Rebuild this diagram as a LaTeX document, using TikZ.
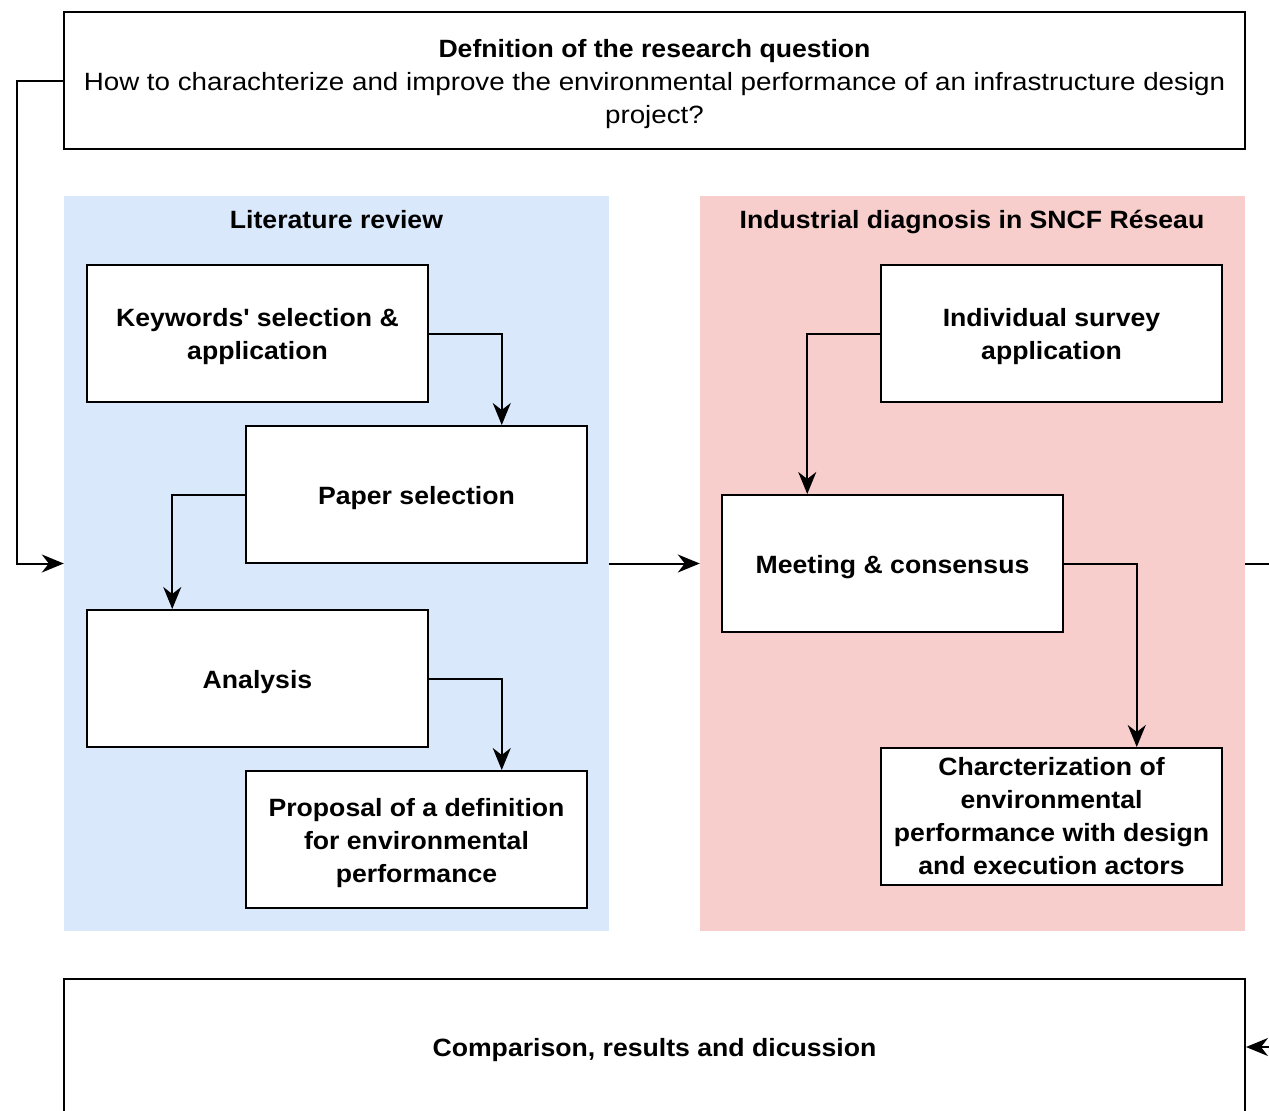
\documentclass[tikz,border=0pt]{standalone}
\usepackage{fontspec}
\setmainfont[FakeStretch=1.11, BoldFeatures={FakeStretch=1.065}]{Liberation Sans}
\usetikzlibrary{arrows.meta}
\definecolor{panelblue}{HTML}{DAE8FC}
\definecolor{panelred}{HTML}{F8CECC}
% taller first line, so the text block sits a little lower in its box
\newcommand\firstline{\rule{0pt}{24.5pt}}
\tikzset{
  box/.style={draw=black, line width=2pt, fill=white, minimum width=341pt,
    minimum height=137pt, inner sep=4pt, align=center,
    font=\fontsize{25}{33}\selectfont\bfseries},
  wide/.style={draw=black, line width=2pt, fill=white, minimum width=1181pt,
    minimum height=137pt, inner sep=4pt, align=center,
    font=\fontsize{25}{33}\selectfont},
  panel/.style={draw=none, minimum width=545pt, minimum height=735pt, inner sep=0pt},
  title/.style={font=\fontsize{25}{33}\selectfont\bfseries, text height=24pt, text depth=5pt},
  link/.style={line width=2pt, -{Stealth[length=22pt,width=18pt,inset=7pt]}},
}
\begin{document}
\begin{tikzpicture}[x=1pt,y=-1pt]
\useasboundingbox[fill=white] (0,0) rectangle (1269,1111);

% research question
\node[wide] (question) at (654.5,80.5)
  {\firstline\textbf{Defnition of the research question}\\
   How to charachterize and improve the environmental performance of an infrastructure design\\
   project?};

% the two study panels
\node[panel, fill=panelblue] (lit) at (336.5,563.5) {};
\node[panel, fill=panelred] (ind) at (972.5,563.5) {};
\node[title] (littitle) at (336.5,219) {Literature review};
\node[title] (indtitle) at (972,219) {Industrial diagnosis in SNCF Réseau};

% literature review steps
\node[box] (kw) at (257.5,333.5) {\firstline Keywords\textquotesingle{} selection \&\\application};
\node[box] (paper) at (416.5,494.5) {\firstline Paper selection};
\node[box] (analysis) at (257.5,678.5) {\firstline Analysis};
\node[box] (proposal) at (416.5,839.5) {\firstline Proposal of a definition\\for environmental\\performance};

% industrial diagnosis steps
\node[box] (survey) at (1051.5,333.5) {\firstline Individual survey\\application};
\node[box] (meeting) at (892.5,563.5) {\firstline Meeting \& consensus};
\node[box] (charac) at (1051.5,816.5) {Charcterization of\\environmental\\performance with design\\and execution actors};

% synthesis
\node[wide] (comparison) at (654.5,1047) {\firstline\textbf{Comparison, results and dicussion}};

% connectors
\draw[link] (question.west) -- ++(-46,0) |- (lit.west);
\draw[link] (kw.east) -| ([xshift=85.25pt]paper.north);
\draw[link] (paper.west) -| ([xshift=-85.25pt]analysis.north);
\draw[link] (analysis.east) -| ([xshift=85.25pt]proposal.north);
\draw[link] (lit.east) -- (ind.west);
\draw[link] (survey.west) -| ([xshift=-85.25pt]meeting.north);
\draw[link] (meeting.east) -| ([xshift=85.25pt]charac.north);
\draw[link] (ind.east) -- ++(60,0) |- (comparison.east);
\end{tikzpicture}
\end{document}
